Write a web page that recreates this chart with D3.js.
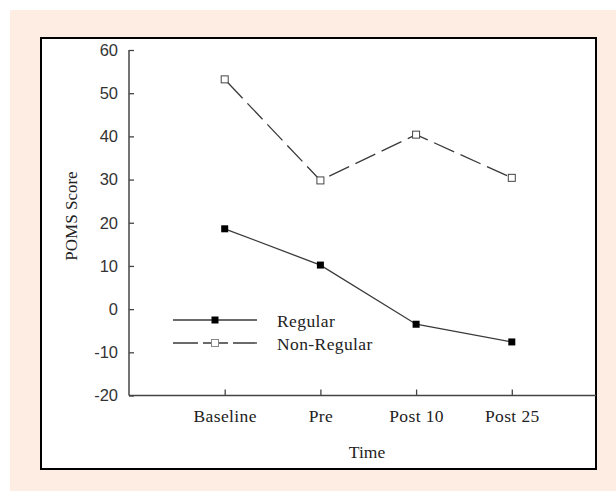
<!DOCTYPE html>
<html><head><meta charset="utf-8">
<script src="https://cdn.jsdelivr.net/npm/d3@7"></script>
<style>body{margin:0;background:#fff}</style>
</head><body>
<script>
const categories = ["Baseline", "Pre", "Post 10", "Post 25"];
const regular = [18.6, 10.2, -3.5, -7.6];
const nonRegular = [53.2, 29.8, 40.4, 30.4];
const yTicks = [-20, -10, 0, 10, 20, 30, 40, 50, 60];
const seriesNames = ["Regular", "Non-Regular"];

const W = 616, H = 491;
const svg = d3.select("body").append("svg").attr("width", W).attr("height", H);

svg.append("rect").attr("x", 10).attr("y", 10).attr("width", W - 10).attr("height", H - 10).attr("fill", "#fdede3");
svg.append("rect").attr("x", 41).attr("y", 38).attr("width", 555).attr("height", 431)
  .attr("fill", "#fff").attr("stroke", "#000").attr("stroke-width", 2);

const x = d3.scaleLinear().domain([0, 5]).range([129, 607.5]);
const y = d3.scaleLinear().domain([-20, 60]).range([395.5, 50]);

const axisColor = "#444";

// Y axis
const ya = svg.append("g").attr("transform", "translate(129,0)")
  .call(d3.axisLeft(y).tickValues(yTicks).tickSize(-5).tickPadding(10).tickFormat((d) => String(d)));
ya.select(".domain").remove();
ya.selectAll(".tick line").attr("stroke", axisColor).attr("stroke-width", 1.3);
ya.selectAll(".tick text").attr("font-family", "Liberation Sans, Arial, sans-serif")
  .attr("font-size", 16.5).attr("fill", "#333").attr("x", -11);
svg.append("line").attr("x1", 129).attr("x2", 129).attr("y1", y(60)).attr("y2", y(-20))
  .attr("stroke", axisColor).attr("stroke-width", 1.5);

// X axis
const xa = svg.append("g").attr("transform", `translate(0,${y(-20)})`)
  .call(d3.axisBottom(x).tickValues([1, 2, 3, 4]).tickSize(-6).tickFormat((d) => categories[d - 1]));
xa.select(".domain").remove();
xa.selectAll(".tick line").attr("stroke", axisColor).attr("stroke-width", 1.3);
xa.selectAll(".tick text").attr("font-family", "Liberation Serif, Times New Roman, serif")
  .attr("font-size", 17.5).attr("fill", "#222").attr("y", 26).attr("dy", 0)
  .attr("letter-spacing", 0.4);
svg.append("line").attr("x1", 129).attr("x2", 596).attr("y1", y(-20)).attr("y2", y(-20))
  .attr("stroke", axisColor).attr("stroke-width", 1.5);

// Axis titles
svg.append("text").attr("x", 367).attr("y", 458).attr("text-anchor", "middle")
  .attr("font-family", "Liberation Serif, Times New Roman, serif").attr("font-size", 17.5)
  .attr("fill", "#222").text("Time");
svg.append("text").attr("transform", "translate(77,216) rotate(-90)").attr("text-anchor", "middle")
  .attr("font-family", "Liberation Serif, Times New Roman, serif").attr("font-size", 17)
  .attr("fill", "#222").text("POMS Score");

const line = d3.line().x((d, i) => x(i + 1)).y((d) => y(d));
const lineColor = "#3a3a3a";

// Non-regular series
svg.append("path").datum(nonRegular).attr("d", line).attr("fill", "none")
  .attr("stroke", lineColor).attr("stroke-width", 1.3).attr("stroke-dasharray", "22,7")
  .attr("stroke-dashoffset", -4);
// Regular series
svg.append("path").datum(regular).attr("d", line).attr("fill", "none")
  .attr("stroke", lineColor).attr("stroke-width", 1.3);

const ms = 7;
svg.selectAll(".mr").data(regular).join("rect")
  .attr("x", (d, i) => x(i + 1) - ms / 2).attr("y", (d) => y(d) - ms / 2)
  .attr("width", ms).attr("height", ms).attr("fill", "#000");
svg.selectAll(".mn").data(nonRegular).join("rect")
  .attr("x", (d, i) => x(i + 1) - ms / 2).attr("y", (d) => y(d) - ms / 2)
  .attr("width", ms).attr("height", ms).attr("fill", "#fff").attr("stroke", "#444").attr("stroke-width", 1);

// Legend
const lg = [{ yy: 320, dash: null, filled: true }, { yy: 343, dash: "25,5", filled: false }];
lg.forEach((l, i) => {
  svg.append("line").attr("x1", 173).attr("x2", 257).attr("y1", l.yy).attr("y2", l.yy)
    .attr("stroke", lineColor).attr("stroke-width", 1.3).attr("stroke-dasharray", l.dash);
  svg.append("rect").attr("x", 215 - ms / 2).attr("y", l.yy - ms / 2).attr("width", ms).attr("height", ms)
    .attr("fill", l.filled ? "#000" : "#fff").attr("stroke", l.filled ? "none" : "#888");
  svg.append("text").attr("x", 277).attr("y", l.yy + 6.5)
    .attr("font-family", "Liberation Serif, Times New Roman, serif").attr("font-size", 17.5)
    .attr("fill", "#222").attr("letter-spacing", 0.4).text(seriesNames[i]);
});
</script>
</body></html>
